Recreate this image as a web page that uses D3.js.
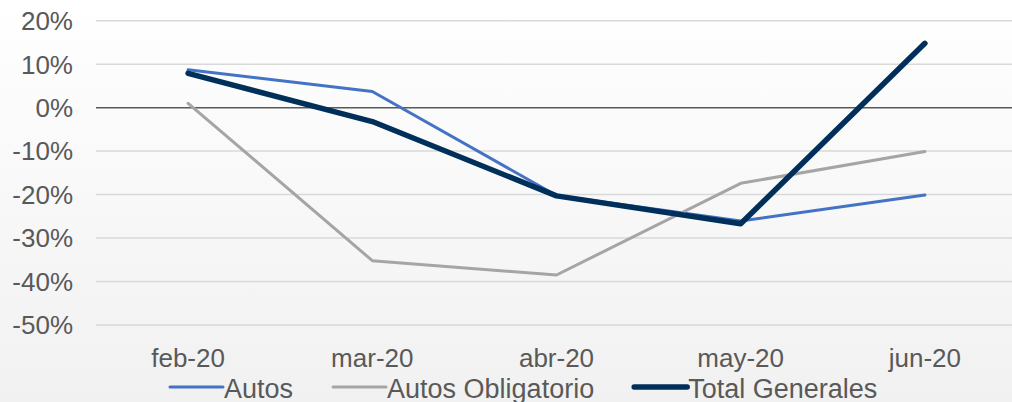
<!DOCTYPE html>
<html>
<head>
<meta charset="utf-8">
<script src="https://cdn.jsdelivr.net/npm/d3@7"></script>
<style>
  body { margin: 0; padding: 0; overflow: hidden; }
  text { font-family: "Liberation Sans", Arial, sans-serif; fill: #595959; }
</style>
</head>
<body>
<div id="chart"></div>
<script>
// data (% change)
var months = ["feb-20", "mar-20", "abr-20", "may-20", "jun-20"];
var autos = [8.7, 3.7, -20.2, -26.1, -20.1];
var autosObligatorio = [1.0, -35.2, -38.5, -17.4, -10.1];
var totalGenerales = [7.9, -3.2, -20.3, -26.7, 14.8];
var yTicks = [20, 10, 0, -10, -20, -30, -40, -50];

var series = [
  {name: "Autos", values: autos, color: "#4472c4", width: 3},
  {name: "Autos Obligatorio", values: autosObligatorio, color: "#a5a5a5", width: 3},
  {name: "Total Generales", values: totalGenerales, color: "#00305a", width: 5.5}
];

var W = 1012, H = 402;
var margin = {top: 20.7, right: -5, bottom: 77, left: 96};
var width = W - margin.left - margin.right,
    height = H - margin.top - margin.bottom;

var svg = d3.select("#chart")
  .append("svg")
    .attr("width", W)
    .attr("height", H);

// background gradient
var grad = svg.append("defs").append("linearGradient")
    .attr("id", "bg").attr("x1", 0).attr("y1", 0).attr("x2", 0).attr("y2", 1);
grad.append("stop").attr("offset", "0%").attr("stop-color", "#ffffff");
grad.append("stop").attr("offset", "100%").attr("stop-color", "#f1f1f1");
svg.append("rect").attr("width", W).attr("height", H).attr("fill", "url(#bg)");

var g = svg.append("g")
    .attr("transform", "translate(" + margin.left + "," + margin.top + ")");

var x = d3.scalePoint()
    .domain(months)
    .range([0, width])
    .padding(0.5);

var y = d3.scaleLinear()
    .domain([-50, 20])
    .range([height, 0]);

// gridlines
g.selectAll(".grid")
  .data(yTicks.filter(function(d) { return d !== 0; }))
  .enter().append("line")
    .attr("x1", 0).attr("x2", width)
    .attr("y1", function(d) { return y(d); })
    .attr("y2", function(d) { return y(d); })
    .attr("stroke", "#d9d9d9")
    .attr("stroke-width", 1.5);

// y labels
g.selectAll(".ylab")
  .data(yTicks)
  .enter().append("text")
    .attr("x", -23)
    .attr("y", function(d) { return y(d); })
    .attr("dy", "0.36em")
    .attr("text-anchor", "end")
    .style("font-size", "26px")
    .text(function(d) { return d + "%"; });

// zero line
g.append("line")
    .attr("x1", 0).attr("x2", width)
    .attr("y1", y(0)).attr("y2", y(0))
    .attr("stroke", "#595959")
    .attr("stroke-width", 1.5);

// x labels
g.selectAll(".xlab")
  .data(months)
  .enter().append("text")
    .attr("x", function(d) { return x(d); })
    .attr("y", height + 42)
    .attr("text-anchor", "middle")
    .style("font-size", "26px")
    .text(function(d) { return d; });

// lines
var line = d3.line()
    .x(function(d, i) { return x(months[i]); })
    .y(function(d) { return y(d); });

series.forEach(function(s) {
  g.append("path")
      .datum(s.values)
      .attr("fill", "none")
      .attr("stroke", s.color)
      .attr("stroke-width", s.width)
      .attr("stroke-linejoin", "round")
      .attr("stroke-linecap", "round")
      .attr("d", line);
});

// legend
var lx = 170, ly = 387;
series.forEach(function(s) {
  svg.append("line")
      .attr("x1", lx).attr("x2", lx + 53)
      .attr("y1", ly).attr("y2", ly)
      .attr("stroke", s.color)
      .attr("stroke-width", s.width)
      .attr("stroke-linecap", "round");
  var t = svg.append("text")
      .attr("x", lx + 54)
      .attr("y", ly + 11)
      .style("font-size", "27px")
      .text(s.name);
  lx = lx + 54 + t.node().getComputedTextLength() + 40;
});
</script>
</body>
</html>
